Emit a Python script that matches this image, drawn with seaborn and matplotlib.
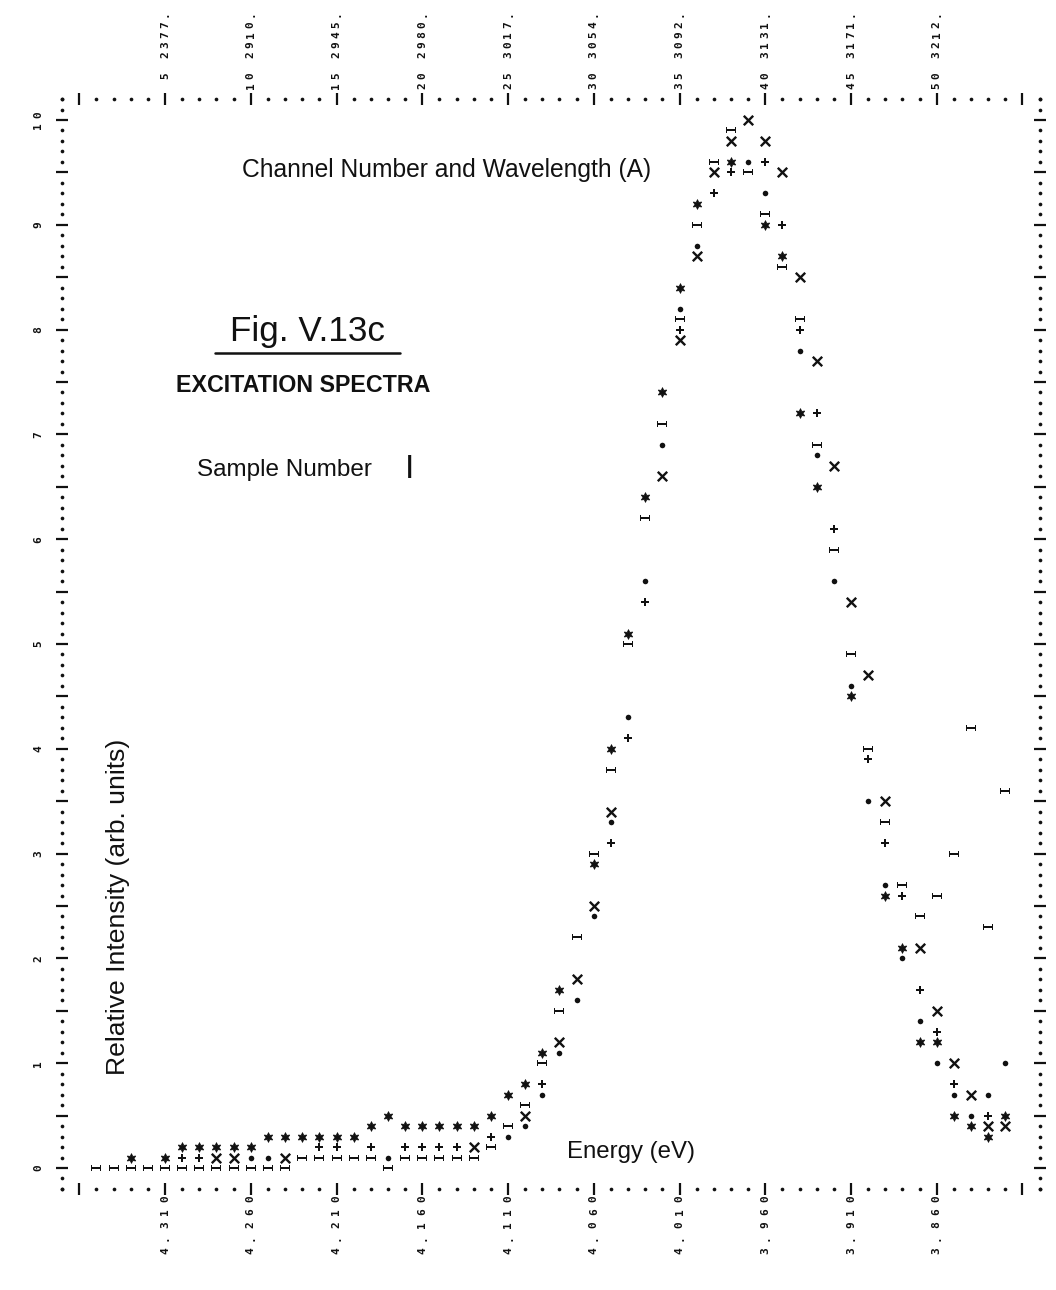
import numpy as np
import pandas as pd
import matplotlib
matplotlib.use("Agg")
import matplotlib.pyplot as plt
import seaborn as sns
from matplotlib.path import Path
from matplotlib.lines import Line2D
from matplotlib import font_manager

# ---------------------------------------------------------------- data
channels = list(range(1, 55))
N = None

# relative intensity per channel for the five printed symbols
series_I = [0.0, 0.0, 0.0, 0.0, 0.0, 0.0, 0.0, 0.0, 0.0, 0.0,
            0.0, 0.0, 0.1, 0.1, 0.1, 0.1, 0.1, 0.0, 0.1, 0.1,
            0.1, 0.1, 0.1, 0.2, 0.4, 0.6, 1.0, 1.5, 2.2, 3.0,
            3.8, 5.0, 6.2, 7.1, 8.1, 9.0, 9.6, 9.9, 9.5, 9.1,
            8.6, 8.1, 6.9, 5.9, 4.9, 4.0, 3.3, 2.7, 2.4, 2.6,
            3.0, 4.2, 2.3, 3.6]
series_star = [N, N, 0.1, N, 0.1, 0.2, 0.2, 0.2, 0.2, 0.2,
               0.3, 0.3, 0.3, 0.3, 0.3, 0.3, 0.4, 0.5, 0.4, 0.4,
               0.4, 0.4, 0.4, 0.5, 0.7, 0.8, 1.1, 1.7, N, 2.9,
               4.0, 5.1, 6.4, 7.4, 8.4, 9.2, N, 9.6, N, 9.0,
               8.7, 7.2, 6.5, N, 4.5, N, 2.6, 2.1, 1.2, 1.2,
               0.5, 0.4, 0.3, 0.5]
series_plus = [N, N, N, N, N, 0.1, 0.1, N, N, N,
               N, N, N, 0.2, 0.2, N, 0.2, N, 0.2, 0.2,
               0.2, 0.2, N, 0.3, N, N, 0.8, N, N, N,
               3.1, 4.1, 5.4, N, 8.0, N, 9.3, 9.5, N, 9.6,
               9.0, 8.0, 7.2, 6.1, N, 3.9, 3.1, 2.6, 1.7, 1.3,
               0.8, N, 0.5, N]
series_X = [N, N, N, N, N, N, N, 0.1, 0.1, N,
            N, 0.1, N, N, N, N, N, N, N, N,
            N, N, 0.2, N, N, 0.5, N, 1.2, 1.8, 2.5,
            3.4, N, N, 6.6, 7.9, 8.7, 9.5, 9.8, 10.0, 9.8,
            9.5, 8.5, 7.7, 6.7, 5.4, 4.7, 3.5, N, 2.1, 1.5,
            1.0, 0.7, 0.4, 0.4]
series_dot = [N, N, N, N, N, N, N, N, N, 0.1,
              0.1, N, N, N, N, N, N, 0.1, N, N,
              N, N, N, N, 0.3, 0.4, 0.7, 1.1, 1.6, 2.4,
              3.3, 4.3, 5.6, 6.9, 8.2, 8.8, N, N, 9.6, 9.3,
              N, 7.8, 6.8, 5.6, 4.6, 3.5, 2.7, 2.0, 1.4, 1.0,
              0.7, 0.5, 0.7, 1.0]

# axis labels printed along the frame
label_channels = [5, 10, 15, 20, 25, 30, 35, 40, 45, 50]
wavelength_labels = ["2377", "2910", "2945", "2980", "3017",
                     "3054", "3092", "3131", "3171", "3212"]
energy_labels = ["4.310", "4.260", "4.210", "4.160", "4.110",
                 "4.060", "4.010", "3.960", "3.910", "3.860"]
intensity_ticks = list(range(0, 11))

# ---------------------------------------------------------------- layout
W, H = 1056, 1290
X0, DX = 79.25, 17.15      # pixel of channel 0, pixels per channel
Y0, DY = 1168.0, 104.8     # pixel of intensity 0, pixels per unit

sns.set_style("white")
fig = plt.figure(figsize=(W / 100, H / 100), dpi=100)
fig.patch.set_facecolor("white")
ax = fig.add_axes([0, 0, 1, 1])
ax.set_xlim((0 - X0) / DX, (W - X0) / DX)
ax.set_ylim((Y0 - H) / DY, Y0 / DY)
ax.axis("off")


def to_val(yp):
    return (Y0 - yp) / DY


def to_chan(xp):
    return (xp - X0) / DX


names = {f.name for f in font_manager.fontManager.ttflist}
SANS = "Liberation Sans Narrow" if "Liberation Sans Narrow" in names else "Liberation Sans"
MONO = "DejaVu Sans Mono"
INK = "#111111"

# ---------------------------------------------------------------- frame of printed dots
frame_chan = np.arange(-1, 57)
frame_rows = np.round(np.arange(-0.2, 10.21, 0.1), 1)
top_v, bot_v = 10.2, -0.2
left_c, right_c = -1, 56

tick_c = frame_chan[(frame_chan % 5 == 0)]
dot_c = frame_chan[(frame_chan % 5 != 0)]
for v in (top_v, bot_v):
    sns.scatterplot(x=dot_c, y=np.full(len(dot_c), v), ax=ax, marker="o",
                    s=7, color=INK, linewidth=0, legend=False)
    sns.scatterplot(x=tick_c, y=np.full(len(tick_c), v), ax=ax, marker="|",
                    s=70, color=INK, linewidth=1.6, legend=False)

half = np.isclose((frame_rows * 2) % 1, 0) | np.isclose((frame_rows * 2) % 1, 1)
tick_r = frame_rows[half & (frame_rows >= 0) & (frame_rows <= 10)]
dot_r = frame_rows[~(half & (frame_rows >= 0) & (frame_rows <= 10))]
for c in (left_c, right_c):
    sns.scatterplot(x=np.full(len(dot_r), c), y=dot_r, ax=ax, marker="o",
                    s=7, color=INK, linewidth=0, legend=False)
    sns.scatterplot(x=np.full(len(tick_r), c), y=tick_r, ax=ax, marker="_",
                    s=70, color=INK, linewidth=1.6, legend=False)

# ---------------------------------------------------------------- data symbols
# the printer "I" lies on its side: a bar with end serifs
i_verts = [(-1, -0.55), (-0.72, -0.55), (-0.72, -0.14), (0.72, -0.14),
           (0.72, -0.55), (1, -0.55), (1, 0.55), (0.72, 0.55), (0.72, 0.14),
           (-0.72, 0.14), (-0.72, 0.55), (-1, 0.55), (-1, -0.55)]
i_codes = [Path.MOVETO] + [Path.LINETO] * (len(i_verts) - 2) + [Path.CLOSEPOLY]
I_MARK = Path(i_verts, i_codes)

styles = [
    ("I", series_I, dict(marker=I_MARK, s=62, linewidth=0)),
    ("*", series_star, dict(marker=(6, 1, 0), s=48, linewidth=0.6)),
    ("+", series_plus, dict(marker="P", s=38, linewidth=0)),
    ("X", series_X, dict(marker="x", s=46, linewidth=1.7)),
    (".", series_dot, dict(marker="o", s=16, linewidth=0)),
]
for name, vals, kw in styles:
    df = pd.DataFrame({"channel": channels, "intensity": vals}).dropna()
    sns.scatterplot(data=df, x="channel", y="intensity", ax=ax, color=INK,
                    edgecolor=INK, legend=False, **kw)

# ---------------------------------------------------------------- printed tick labels


def vertical_chars(text, c, top_px, pitch, size=8):
    """Rotated printer text reading upward, last char at top_px."""
    for k, ch in enumerate(reversed(text)):
        if ch == " ":
            continue
        ax.text(c, to_val(top_px + k * pitch), ch, rotation=90, ha="center",
                va="center", rotation_mode="anchor", fontsize=size,
                family=MONO, color=INK, fontweight="bold")


for c, wl in zip(label_channels, wavelength_labels):
    vertical_chars(f"{c} {wl}.", c, 14, 10.2)
for c, en in zip(label_channels, energy_labels):
    vertical_chars(en, c, 1199, 13)
for t in intensity_ticks:
    s = str(t)
    yc = Y0 - DY * t
    top = yc - (len(s) - 1) * 10.5 / 2
    vertical_chars(s, to_chan(38), top, 10.5)

# ---------------------------------------------------------------- annotations
renderer = fig.canvas.get_renderer()


def fit_text(s, xc, yc, span, rot=0, family=SANS, **kw):
    t = fig.text(xc / W, 1 - yc / H, s, ha="center", va="center",
                 rotation=rot, fontsize=20, family=family, color=INK, **kw)
    bb = t.get_window_extent(renderer)
    cur = bb.height if rot else bb.width
    t.set_fontsize(20 * span / cur)
    return t


fit_text("Channel Number and Wavelength (A)", 447, 170, 410)
fit_text("Fig. V.13c", 307, 331, 154, family="Liberation Sans")
fig.add_artist(Line2D([215 / W, 400 / W], [1 - 353 / H, 1 - 353 / H],
                      transform=fig.transFigure, color=INK, linewidth=1.8))
fit_text("EXCITATION SPECTRA", 303, 385, 254, fontweight="bold")
fit_text("Sample Number", 284, 470, 175)
fig.text(410 / W, 1 - 470 / H, "I", ha="center", va="center", fontsize=24,
         family="Liberation Sans", color=INK)
fit_text("Relative Intensity (arb. units)", 118, 907, 335, rot=90)
fit_text("Energy (eV)", 631, 1152, 128)

fig.savefig("out.png", dpi=100, facecolor="white")
